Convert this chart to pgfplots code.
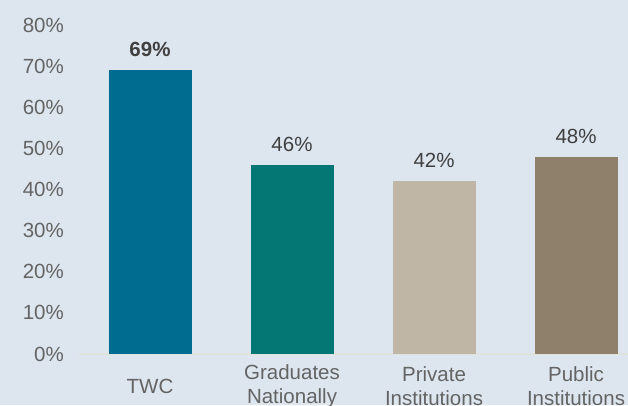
\documentclass[border=0pt]{standalone}
\usepackage{pgfplots}
\pgfplotsset{compat=1.18}
\usepackage{fontspec}
\setmainfont{Liberation Sans}
\definecolor{bg}{RGB}{221,229,238}
\definecolor{cTWC}{RGB}{0,108,143}
\definecolor{cGrad}{RGB}{4,119,117}
\definecolor{cPriv}{RGB}{191,182,166}
\definecolor{cPub}{RGB}{143,128,108}
\definecolor{tickgray}{RGB}{100,100,100}
\definecolor{valgray}{RGB}{64,64,64}
\definecolor{basegray}{RGB}{226,226,220}
\begin{document}
\begin{tikzpicture}
\fill[bg] (0,0) rectangle (628pt,405pt);
\useasboundingbox (0,0) rectangle (628pt,405pt);
\begin{axis}[
  at={(79pt,51pt)}, anchor=south west,
  scale only axis,
  width=549pt, height=329pt,
  xmin=-0.5, xmax=3.366,
  ymin=0, ymax=80,
  ybar, bar width=83pt, bar shift=0pt,
  axis line style={draw=none},
  axis x line*=bottom,
  axis y line*=left,
  /pgf/number format/assume math mode=true,
  ytick={0,10,...,80},
  xtick={0,1,2,3},
  xticklabels={TWC,Graduates\\Nationally,Private\\Institutions,Public\\Institutions},
  major tick length=0pt,
  tick style={draw=none},
  xticklabel style={anchor=center, yshift=-32pt, align=center, font=\fontsize{20.5}{24}\selectfont, text=tickgray},
  yticklabel style={anchor=east, inner sep=0pt, xshift=-15pt, font=\fontsize{20.5}{24}\selectfont, text=tickgray},
  yticklabel={\pgfmathprintnumber{\tick}\%},
  clip=false,
  nodes near coords={\pgfmathprintnumber{\pgfplotspointmeta}\%},
  nodes near coords style={anchor=south, inner sep=0pt, yshift=13pt, font=\fontsize{20.5}{24}\selectfont, text=valgray},
]
\draw[basegray, line width=1.2pt] (axis cs:-0.5,0) -- (axis cs:3.366,0);
\addplot[fill=cTWC, draw=none, nodes near coords style={font=\fontsize{20.5}{24}\selectfont\bfseries}] coordinates {(0,69)};
\addplot[fill=cGrad, draw=none] coordinates {(1,46)};
\addplot[fill=cPriv, draw=none] coordinates {(2,42)};
\addplot[fill=cPub, draw=none] coordinates {(3,48)};
\end{axis}
\end{tikzpicture}
\end{document}
